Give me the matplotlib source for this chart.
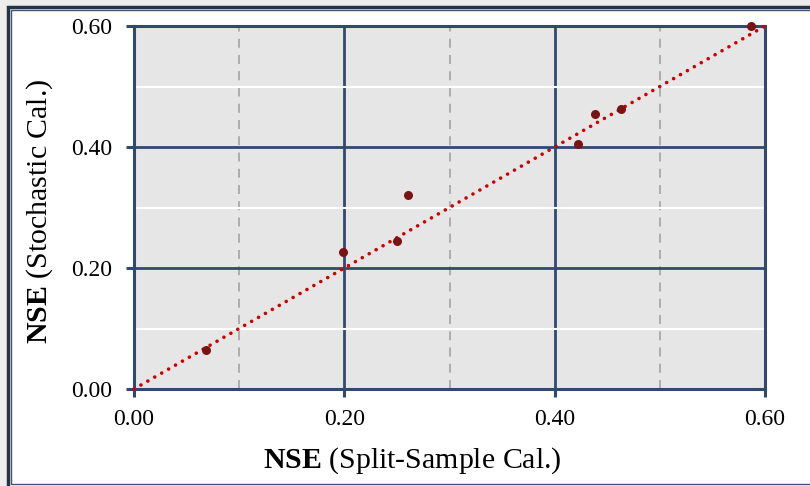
import matplotlib
matplotlib.use("Agg")
import matplotlib.pyplot as plt
from matplotlib.patches import Rectangle

# NSE values
nse_split = [0.068, 0.199, 0.250, 0.261, 0.422, 0.438, 0.463, 0.587]
nse_stoch = [0.064, 0.227, 0.245, 0.321, 0.405, 0.455, 0.463, 0.600]
line_x = [0.0, 0.6]
major_ticks = [0.0, 0.2, 0.4, 0.6]
minor_ticks = [0.1, 0.3, 0.5]

plt.rcParams['font.family'] = ['Liberation Serif', 'DejaVu Serif']
plt.rcParams['mathtext.fontset'] = 'custom'
plt.rcParams['mathtext.rm'] = 'Liberation Serif'
plt.rcParams['mathtext.bf'] = 'Liberation Serif:bold'

navy = '#2f4a6e'
W, H = 810, 486
fig = plt.figure(figsize=(W / 100, H / 100), dpi=100, facecolor='#efedec')

# figure frame: thick outer line and thin inner line
fig.patches.append(Rectangle((7.5 / W, -0.05), 1.2, (H - 7.5) / H + 0.05,
                             transform=fig.transFigure, facecolor='white',
                             edgecolor='#263345', linewidth=2.5, zorder=-2))
fig.patches.append(Rectangle((10.5 / W, 2.5 / H), 1.2, (H - 13) / H,
                             transform=fig.transFigure, facecolor='none',
                             edgecolor='#3d5474', linewidth=1.0, zorder=-1))

ax = fig.add_axes([134 / W, 1 - 389 / H, (765 - 134) / W, (389 - 26) / H])
ax.set_zorder(1)
ax.set_facecolor('#e6e6e6')
ax.set_xlim(0, 0.6)
ax.set_ylim(0, 0.6)

ax.set_xticks(major_ticks)
ax.set_yticks(major_ticks)
ax.set_xticks(minor_ticks, minor=True)
ax.set_yticks(minor_ticks, minor=True)
ax.set_xticklabels([f'{v:.2f}' for v in major_ticks])
ax.set_yticklabels([f'{v:.2f}' for v in major_ticks])

ax.grid(which='major', color=navy, linewidth=2.0, zorder=1)
ax.grid(which='minor', axis='x', color='#a8a8a8', linestyle=(0, (5, 4)),
        linewidth=1.3)
ax.grid(which='minor', axis='y', color='white', linewidth=1.5)
ax.set_axisbelow(True)

for sp in ax.spines.values():
    sp.set_color(navy)
    sp.set_linewidth(2.2)

ax.tick_params(which='major', direction='out', length=5.5, width=2.2,
               color=navy, labelsize=17)
ax.tick_params(axis='x', which='major', pad=9)
ax.tick_params(axis='y', which='major', pad=10)
ax.tick_params(which='minor', length=0)

ax.plot(line_x, line_x, color='#cc0000', linestyle=(0, (0.01, 2.2)),
        linewidth=2.6, dash_capstyle='round', zorder=3, clip_on=False)
ax.plot(nse_split, nse_stoch, 'o', color='#7a1414', markersize=6.5,
        markeredgewidth=0, zorder=4, clip_on=False)

ax.set_xlabel(r'$\mathbf{NSE}$ (Split-Sample Cal.)', fontsize=21.5)
ax.set_ylabel(r'$\mathbf{NSE}$ (Stochastic Cal.)', fontsize=21.5)
ax.xaxis.set_label_coords(0.4406, -0.155)
ax.yaxis.set_label_coords(-0.125, 0.49)

fig.savefig('out.png', dpi=100, facecolor=fig.get_facecolor())
